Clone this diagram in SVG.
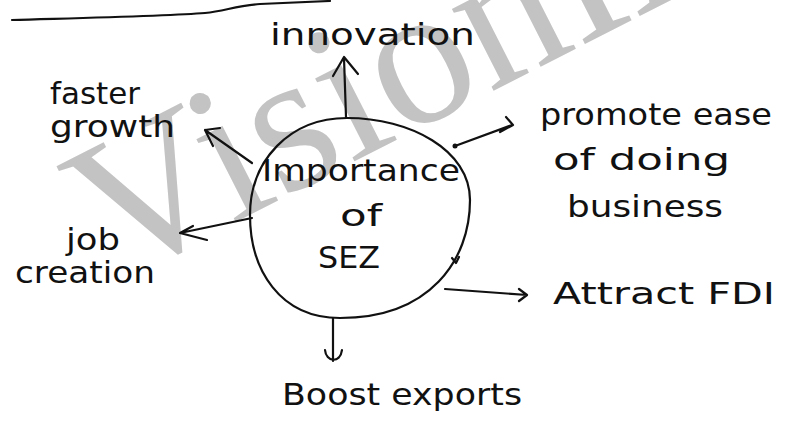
<svg xmlns="http://www.w3.org/2000/svg" width="787" height="423" viewBox="0 0 787 423">
<style>
.hw{font-family:"DejaVu Sans","Liberation Sans",sans-serif;fill:#111;font-size:30px}
.ln{fill:none;stroke:#111;stroke-width:2.2;stroke-linecap:round;stroke-linejoin:round}
.wm{font-family:"Liberation Serif","DejaVu Serif",serif;fill:#c3c3c3;font-size:200px}
</style>
<rect width="787" height="423" fill="#fff"/>
<text class="wm" transform="translate(114,284) rotate(-27)">VisionIAS</text>
<path class="ln" d="M12,20 C80,18 170,16 205,13 C225,11 235,6 260,4 L330,1"/>
<g id="center">
<path class="ln" d="M347,118 C410,118 470,150 470,200 C470,260 430,318 340,318 C280,318 250,270 250,215 C250,160 290,118 347,118 Z"/>
<text class="hw" x="262" y="181" textLength="198" lengthAdjust="spacingAndGlyphs">Importance</text>
<text class="hw" x="340" y="226" textLength="42" lengthAdjust="spacingAndGlyphs">of</text>
<text class="hw" x="318" y="268" font-size="24" textLength="62" lengthAdjust="spacingAndGlyphs">SEZ</text>
<path class="ln" d="M452,258 l4,5 l3,-6"/>
</g>
<g id="innovation"><text class="hw" x="270" y="45" textLength="205" lengthAdjust="spacingAndGlyphs">innovation</text></g>
<g id="faster-growth">
<text class="hw" x="50" y="104" font-size="27" textLength="90" lengthAdjust="spacingAndGlyphs">faster</text>
<text class="hw" x="50" y="137" font-size="27" textLength="125" lengthAdjust="spacingAndGlyphs">growth</text>
</g>
<g id="job-creation">
<text class="hw" x="66" y="250" font-size="28" textLength="54" lengthAdjust="spacingAndGlyphs">job</text>
<text class="hw" x="15" y="283" font-size="28" textLength="140" lengthAdjust="spacingAndGlyphs">creation</text>
</g>
<g id="promote">
<text class="hw" x="540" y="125" textLength="232" lengthAdjust="spacingAndGlyphs">promote ease</text>
<text class="hw" x="553" y="170" textLength="177" lengthAdjust="spacingAndGlyphs">of doing</text>
<text class="hw" x="567" y="217" textLength="156" lengthAdjust="spacingAndGlyphs">business</text>
</g>
<g id="attract"><text class="hw" x="553" y="304" textLength="222" lengthAdjust="spacingAndGlyphs">Attract FDI</text></g>
<g id="boost"><text class="hw" x="282" y="405" textLength="240" lengthAdjust="spacingAndGlyphs">Boost exports</text></g>
<g id="connectors">
<path class="ln" d="M346,117 L344,58 M333,76 L344,57 L358,74"/>
<path class="ln" d="M252,163 L205,130 M220,128 L205,130 L213,146"/>
<path class="ln" d="M252,218 L180,233 M193,226 L180,233 L207,240"/>
<path class="ln" d="M455,146 L512,125 M506,117 L513,125 L500,132"/>
<circle cx="455" cy="146" r="2.5" fill="#111"/>
<path class="ln" d="M445,289 L527,295 M519,289 L527,295 L519,301"/>
<path class="ln" d="M333,318 L333,361 M325,350 C326,362 340,364 342,350"/>
</g>
</svg>
